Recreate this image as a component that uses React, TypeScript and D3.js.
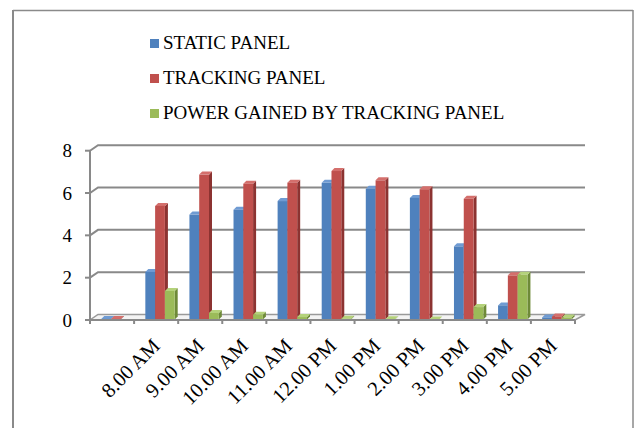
import React from "react";
import * as d3 from "d3";

const categories = ["", "8.00 AM", "9.00 AM", "10.00 AM", "11.00 AM", "12.00 PM", "1.00 PM", "2.00 PM", "3.00 PM", "4.00 PM", "5.00 PM"];
const staticPanel = [0.05, 2.27, 4.98, 5.21, 5.62, 6.48, 6.2, 5.77, 3.48, 0.69, 0.12];
const trackingPanel = [0.05, 5.39, 6.87, 6.44, 6.49, 7.04, 6.6, 6.18, 5.73, 2.11, 0.17];
const powerGained = [0, 1.37, 0.33, 0.25, 0.14, 0.06, 0.03, 0.02, 0.61, 2.14, 0.12];
const yTicks = [0, 2, 4, 6, 8];

const seriesNames = ["STATIC PANEL", "TRACKING PANEL", "POWER GAINED BY TRACKING PANEL"];
const seriesColors = [
  { front: "#4F81BD", side: "#365e8f", top: "#6f9bd3" },
  { front: "#C0504D", side: "#8c3331", top: "#d46f6c" },
  { front: "#9BBB59", side: "#6e8a38", top: "#b4d27a" },
];

const W = 637;
const H = 428;
const FONT = "Liberation Serif";
const FS = 19;
const FS_CAT = 20.5;

// 3D depth offset of the back wall
const DX = 8;
const DY = -5.5;

export default function App() {
  const x = d3.scaleBand<string>().domain(categories).range([90, 575]).padding(0);
  const y = d3.scaleLinear().domain([0, 8]).range([320, 150.7]);
  const bw = x.bandwidth();
  const barW = bw * 0.222;
  const barOff = bw * 0.255;
  const depth = 3;

  const series = [staticPanel, trackingPanel, powerGained];
  const floorBack = y(0) + DY;

  return (
    <svg width={W} height={H} style={{ position: "absolute", left: 0, top: 0 }}>
      <rect x={0} y={0} width={W} height={H} fill="#ffffff" />
      {/* outer frame */}
      <line x1={13} y1={10.5} x2={633} y2={10.5} stroke="#8a8a8a" strokeWidth={1.5} />
      <line x1={13} y1={10} x2={13} y2={H} stroke="#8a8a8a" strokeWidth={2} />
      <line x1={633} y1={10} x2={633} y2={H} stroke="#8a8a8a" strokeWidth={1.5} />

      {/* legend */}
      {seriesNames.map((name, i) => {
        const base = 49.3 + i * 35;
        return (
          <g key={name}>
            <rect x={150} y={base - 10.3} width={9} height={9} fill={seriesColors[i].front} />
            <text x={163} y={base} fontFamily={FONT} fontSize={FS} fill="#000">
              {name}
            </text>
          </g>
        );
      })}

      {/* floor */}
      <path
        d={`M${x.range()[0]},${y(0)} L${x.range()[1]},${y(0)} L${x.range()[1] + DX + 2},${floorBack} L${x.range()[0] + DX},${floorBack} Z`}
        fill="#f4f4f4"
        stroke="#9a9a9a"
        strokeWidth={1.5}
      />

      {/* gridlines on the back wall */}
      {yTicks.filter((t) => t > 0).map((t) => (
        <path
          key={t}
          d={`M${90},${y(t)} L${90 + DX},${y(t) + DY} L${585},${y(t) + DY}`}
          fill="none"
          stroke="#898989"
          strokeWidth={2}
        />
      ))}

      {/* value axis */}
      <line x1={90} y1={y(8)} x2={90} y2={y(0)} stroke="#898989" strokeWidth={2} />
      {yTicks.map((t) => (
        <g key={t}>
          <line x1={85} y1={y(t)} x2={90} y2={y(t)} stroke="#898989" strokeWidth={2} />
          <text x={72} y={y(t)} dy="0.35em" textAnchor="end" fontFamily={FONT} fontSize={FS} fill="#000">
            {t}
          </text>
        </g>
      ))}

      {/* bars */}
      {categories.map((c, ci) => (
        <g key={`cat-${ci}`}>
          {series.map((vals, si) => {
            const v = vals[ci];
            if (v <= 0) return null;
            const x0 = (x(c) as number) + barOff + si * barW;
            const yt = y(v);
            const yb = y(0) - 0.5;
            const col = seriesColors[si];
            return (
              <g key={si}>
                <path
                  d={`M${x0 + barW},${yb} L${x0 + barW + depth},${yb - depth} L${x0 + barW + depth},${yt - depth} L${x0 + barW},${yt} Z`}
                  fill={col.side}
                />
                <path
                  d={`M${x0},${yt} L${x0 + depth},${yt - depth} L${x0 + barW + depth},${yt - depth} L${x0 + barW},${yt} Z`}
                  fill={col.top}
                />
                <rect x={x0} y={yt} width={barW} height={Math.max(0, yb - yt)} fill={col.front} />
              </g>
            );
          })}
        </g>
      ))}

      {/* category axis */}
      <line x1={x.range()[0]} y1={y(0)} x2={x.range()[1]} y2={y(0)} stroke="#898989" strokeWidth={2} />
      {[...categories.map((c) => x(c) as number), x.range()[1]].map((tx, i) => (
        <line key={`t${i}`} x1={tx} y1={y(0)} x2={tx} y2={y(0) + 4} stroke="#898989" strokeWidth={2} />
      ))}
      {categories.map((c, i) =>
        c ? (
          <text
            key={`l${i}`}
            transform={`translate(${(x(c) as number) + bw / 2},${342}) rotate(-45)`}
            textAnchor="end"
            dy="0.35em"
            fontFamily={FONT}
            fontSize={FS_CAT}
            fill="#000"
          >
            {c}
          </text>
        ) : null
      )}
    </svg>
  );
}
